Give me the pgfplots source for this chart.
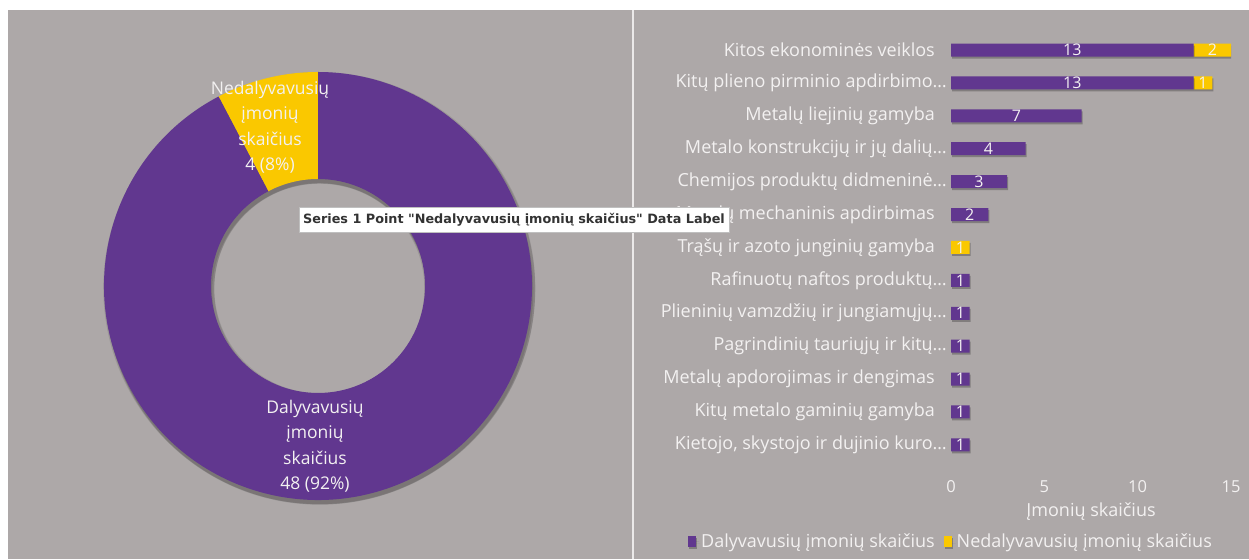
\documentclass[border=0pt]{standalone}
\usepackage{pgfplots}
\pgfplotsset{compat=1.18}
\usepackage{pgfplotstable}
\usepackage{fontspec}
\setmainfont{Open Sans}
\newfontfamily\tipfont{DejaVu Sans}
\definecolor{bg}{RGB}{173,168,168}
\definecolor{pur}{RGB}{97,55,143}
\definecolor{yel}{RGB}{250,200,0}
\definecolor{lbl}{RGB}{243,241,241}

\pgfplotstableread{
idx p n
0 13 2
1 13 1
2 7 0
3 4 0
4 3 0
5 2 0
6 0 1
7 1 0
8 1 0
9 1 0
10 1 0
11 1 0
12 1 0
}\bardata

\newcommand{\lf}{\fontsize{18}{21}\selectfont}

\begin{document}
\begin{tikzpicture}[x=1pt,y=1pt]
\path[use as bounding box] (0pt,0pt) rectangle (1249pt,559pt);
\fill[white] (0pt,0pt) rectangle (1249pt,559pt);
\fill[bg] (8pt,0pt) rectangle (1249pt,549pt);
\fill[white!75!bg] (631.5pt,0pt) rectangle (634pt,549pt);

\pgfmathsetmacro{\vA}{48}
\pgfmathsetmacro{\vB}{4}
\pgfmathsetmacro{\aB}{90+360*\vB/(\vA+\vB)}
\begin{axis}[at={(318pt,273pt)}, anchor=center, scale only axis, width=428pt, height=428pt,
  xmin=-1, xmax=1, ymin=-1, ymax=1, hide axis, clip=false]
\fill[black, opacity=0.10, even odd rule] (axis cs:0.006,-0.010) circle[radius=216pt] (axis cs:0.006,-0.010) circle[radius=105pt];
\fill[black, opacity=0.12, even odd rule] (axis cs:0.010,-0.016) circle[radius=215pt] (axis cs:0.010,-0.016) circle[radius=106pt];
\fill[black, opacity=0.10, even odd rule] (axis cs:0.006,-0.022) circle[radius=214pt] (axis cs:0.006,-0.022) circle[radius=107pt];
\fill[yel] (axis cs:0,1) arc[start angle=90, end angle=\aB, radius=214pt]
  -- (axis cs:{0.5*cos(\aB)},{0.5*sin(\aB)}) arc[start angle=\aB, end angle=90, radius=107pt] -- cycle;
\fill[pur] (axis cs:{cos(\aB)},{sin(\aB)}) arc[start angle=\aB, end angle=450, radius=214pt]
  -- (axis cs:0,0.5) arc[start angle=450, end angle=\aB, radius=107pt] -- cycle;
\node[text=lbl, align=center, font=\fontsize{17.5}{25.5}\selectfont] at (axis cs:-0.224,0.743) {Nedalyvavusių\\įmonių\\skaičius\\4 (8\%)};
\node[text=lbl, align=center, font=\fontsize{17.5}{25.5}\selectfont] at (axis cs:-0.014,-0.748) {Dalyvavusių\\įmonių\\skaičius\\48 (92\%)};
\end{axis}

\begin{axis}[at={(951pt,94.4pt)}, anchor=south west, scale only axis, width=280pt, height=434.3pt,
  xmin=0, xmax=15, ymin=-0.6, ymax=12.6, y dir=reverse,
  xbar stacked, bar width=13pt,
  /pgf/number format/assume math mode=true,
  axis line style={draw=none}, tick style={draw=none}, major tick length=0pt,
  xtick={0,5,10,15}, ytick={0,...,12},
  yticklabels={Kitos ekonominės veiklos,
    Kitų plieno pirminio apdirbimo…\hspace*{-12pt},
    Metalų liejinių gamyba,
    Metalo konstrukcijų ir jų dalių…\hspace*{-12pt},
    Chemijos produktų didmeninė…\hspace*{-12pt},
    Metalų mechaninis apdirbimas,
    Trąšų ir azoto junginių gamyba,
    Rafinuotų naftos produktų…\hspace*{-12pt},
    Plieninių vamzdžių ir jungiamųjų…\hspace*{-12pt},
    Pagrindinių tauriųjų ir kitų…\hspace*{-12pt},
    Metalų apdorojimas ir dengimas,
    Kitų metalo gaminių gamyba,
    {Kietojo, skystojo ir dujinio kuro…\hspace*{-12pt}}},
  yticklabel style={text=lbl, font=\lf, inner sep=0pt, xshift=-16pt},
  xticklabel style={text=lbl, font=\fontsize{16.5}{19}\selectfont, inner sep=0pt, yshift=-16pt},
  xlabel={Įmonių skaičius},
  xlabel style={text=lbl, font=\lf, at={(axis description cs:0.5,0)}, anchor=north, inner sep=0pt, yshift=-38pt},
  legend style={at={(0,-0.176)}, anchor=center, draw=none, fill=none, text=lbl, font=\lf,
    legend columns=-1, inner sep=0pt,
    /tikz/every odd column/.append style={column sep=0pt},
    /tikz/every even column/.append style={column sep=0pt}},
  sq/.style={legend image code/.code={\path (0pt,0pt) -- (11pt,0pt); \fill[##1] (0pt,-5.5pt) rectangle (8pt,5pt);}},
]
\addplot[fill=pur, draw=none, sq, preaction={fill=black, opacity=0.25, transform canvas={xshift=1pt, yshift=-2pt}}] table[x=p, y=idx]{\bardata};
\addplot[fill=yel, draw=none, sq, preaction={fill=black, opacity=0.25, transform canvas={xshift=1pt, yshift=-2pt}}] table[x=n, y=idx]{\bardata};
\legend{Dalyvavusių įmonių skaičius\hspace*{7pt}, Nedalyvavusių įmonių skaičius}
\end{axis}

\begin{axis}[at={(951pt,94.4pt)}, anchor=south west, scale only axis, width=280pt, height=434.3pt,
  xmin=0, xmax=15, ymin=-0.6, ymax=12.6, y dir=reverse, hide axis, clip=false,
  /pgf/number format/assume math mode=true,
  nodes near coords={\pgfmathfloatifflags{\pgfplotspointmeta}{0}{}{\pgfmathprintnumber{\pgfplotspointmeta}}},
  nodes near coords style={anchor=center, text=lbl, font=\fontsize{16}{18}\selectfont, inner sep=0pt},
]
\addplot[draw=none, mark=none, point meta=explicit] table[x expr=\thisrow{p}/2, y=idx, meta=p]{\bardata};
\addplot[draw=none, mark=none, point meta=explicit] table[x expr=\thisrow{p}+\thisrow{n}/2, y=idx, meta=n]{\bardata};
\end{axis}

\node[draw=black!25, fill=white, inner xsep=4pt, inner ysep=0pt, minimum height=25pt, anchor=west,
  font=\tipfont\bfseries\fontsize{12.8}{16}\selectfont, text=black!80] at (299pt,339.5pt)
  {Series 1 Point "Nedalyvavusių įmonių skaičius" Data Label};
\end{tikzpicture}
\end{document}
